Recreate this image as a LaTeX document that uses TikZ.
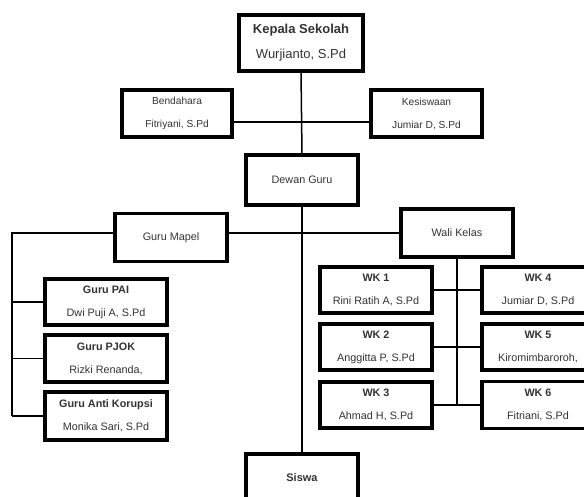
\documentclass[tikz,border=0pt]{standalone}
\usepackage{fontspec}
\setmainfont{Liberation Sans}
\begin{document}
\begin{tikzpicture}[x=1pt,y=-1pt,
  box/.style={draw=black,line width=3.2pt,fill=white,inner sep=0pt,outer sep=0pt,
    align=center,text=black!80,font=\fontsize{10.8}{23}\selectfont},
  bigbox/.style={box,line width=4pt,font=\fontsize{13}{25}\selectfont},
  conn/.style={draw=black,line width=1.5pt}]
\clip (0,0) rectangle (584,496);
\fill[white] (0,0) rectangle (584,496);
% nodes
\node[bigbox,minimum width=124,minimum height=56] (kepala) at (301,42.5) {\textbf{Kepala Sekolah}\\Wurjianto, S.Pd};
\node[box,minimum width=110,minimum height=47,font=\fontsize{10.2}{23}\selectfont] (bend) at (177,113.5) {Bendahara\\Fitriyani, S.Pd};
\node[box,minimum width=111,minimum height=47,font=\fontsize{10.2}{23}\selectfont] (kesis) at (426.5,113.5) {Kesiswaan\\Jumiar D, S.Pd};
\node[box,minimum width=112,minimum height=50] (dewan) at (302,180) {Dewan Guru};
\node[box,minimum width=112,minimum height=48] (mapel) at (171,237.5) {Guru Mapel};
\node[box,minimum width=112,minimum height=48] (wali) at (457,233) {Wali Kelas};
\node[box,minimum width=122,minimum height=46] (pai) at (106,302) {\textbf{Guru PAI}\\Dwi Puji A, S.Pd};
\node[box,minimum width=122,minimum height=47] (pjok) at (106,358.5) {\textbf{Guru PJOK}\\Rizki Renanda,};
\node[box,minimum width=122,minimum height=48] (anti) at (106,416) {\textbf{Guru Anti Korupsi}\\Monika Sari, S.Pd};
\node[box,minimum width=112,minimum height=46] (wk1) at (376,290) {\textbf{WK 1}\\Rini Ratih A, S.Pd};
\node[box,minimum width=112,minimum height=46] (wk2) at (376,347) {\textbf{WK 2}\\Anggitta P, S.Pd};
\node[box,minimum width=112,minimum height=46] (wk3) at (376,405) {\textbf{WK 3}\\Ahmad H, S.Pd};
\node[box,minimum width=112,minimum height=46] (wk4) at (538,290) {\textbf{WK 4}\\Jumiar D, S.Pd};
\node[box,minimum width=112,minimum height=46] (wk5) at (538,347) {\textbf{WK 5}\\Kiromimbaroroh,};
\node[box,minimum width=112,minimum height=47] (wk6) at (538,405) {\textbf{WK 6}\\Fitriani, S.Pd};
\node[box,minimum width=112,minimum height=48,font=\fontsize{11}{23}\selectfont\bfseries] (siswa) at (302,478) {Siswa};
% helper coordinates
\coordinate (lt) at (12,233);
\coordinate (lb) at (12,416);
% connectors
\draw[conn] (kepala.south) -- (dewan.north);
\draw[conn] (dewan.south) -- (siswa.north);
\draw[conn] ([yshift=-8.5pt]bend.east) -- ([yshift=-8.5pt]kesis.west);
\draw[conn] (mapel.east|-wali.west) -- (wali.west);
\draw[conn] (mapel.west|-wali.west) -- (lt) -- (lb);
\draw[conn] (lt|-pai.west) -- (pai.west);
\draw[conn] (lt|-pjok.west) -- (pjok.west);
\draw[conn] (lb) -- (anti.west);
\draw[conn] (wali.south) -- (wali.south|-wk3.east);
\draw[conn] (wk1.east) -- (wk4.west);
\draw[conn] (wk2.east) -- (wk5.west);
\draw[conn] (wk3.east) -- (wk6.west);
\end{tikzpicture}
\end{document}
